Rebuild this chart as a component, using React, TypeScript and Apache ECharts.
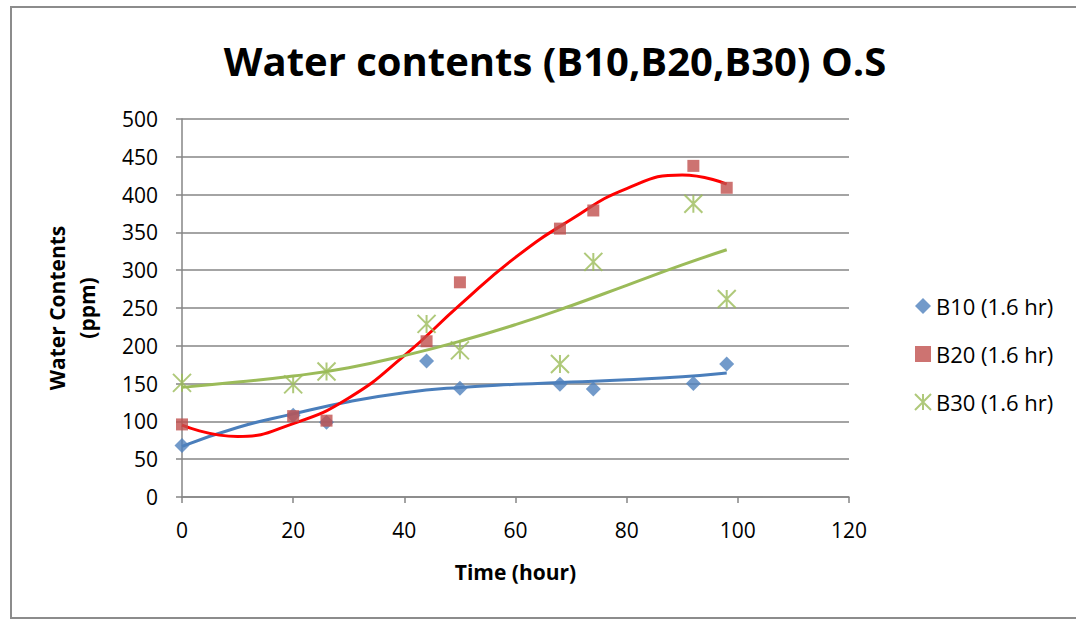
import React, { useEffect, useRef } from "react";
import * as echarts from "echarts";

const hours = [0, 20, 26, 44, 50, 68, 74, 92, 98];
const b10 = [68, 108, 99, 180, 144, 149, 143, 150, 176];
const b20 = [96, 107, 101, 206, 284, 355, 379, 438, 409];
const b30 = [151, 149, 166, 229, 194, 176, 311, 388, 262];

// trend lines
const trendX = [0, 10, 20, 30, 40, 50, 60, 70, 80, 90, 98];
const b10TrendY = [67, 92, 110, 126, 138, 145, 149, 152, 155, 159, 164];
const b20TrendY = [95, 80, 97, 131, 187, 254, 317, 367, 408, 426, 414];
const b30TrendY = [145, 152, 160, 171, 187, 206, 228, 253, 280, 307, 327];

const seriesNames = ["B10 (1.6 hr)", "B20 (1.6 hr)", "B30 (1.6 hr)"];
const xTicks = [0, 120, 20];
const yTicks = [0, 500, 50];

const pair = (xs: number[], ys: number[]) => xs.map((x, i) => [x, ys[i]]);

const STAR = "path://M0,0L10,10M10,0L0,10M5,0L5,10";
const FONT = "'Open Sans', 'Noto Sans', sans-serif";

export default function App() {
  const ref = useRef<HTMLDivElement>(null);
  useEffect(() => {
    if (!ref.current) return;
    const chart = echarts.init(ref.current, undefined, { renderer: "svg" });
    const trend = (data: number[], color: string) => ({
      type: "line",
      data: pair(trendX, data),
      smooth: 0.5,
      showSymbol: false,
      silent: true,
      lineStyle: { color, width: 3 },
      z: 2,
    });
    chart.setOption({
      animation: false,
      backgroundColor: "#ffffff",
      title: {
        text: "Water contents (B10,B20,B30) O.S",
        left: 550,
        textAlign: "center",
        top: 35,
        textStyle: { fontFamily: FONT, fontWeight: "bold", fontSize: 40, color: "#000" },
      },
      graphic: [
        {
          type: "rect",
          shape: { x: 11, y: 7, width: 1100, height: 611 },
          style: { fill: "none", stroke: "#8c8c8c", lineWidth: 2 },
          silent: true,
          z: -1,
        },
      ],
      grid: { left: 182, right: 227, top: 119, bottom: 122, containLabel: false },
      legend: {
        orient: "vertical",
        left: 909,
        top: 290,
        itemGap: 26,
        itemWidth: 16,
        itemHeight: 16,
        itemTextGap: 5,
        data: seriesNames,
        textStyle: { fontFamily: FONT, fontSize: 22, color: "#000" },
      },
      xAxis: {
        type: "value",
        min: xTicks[0],
        max: xTicks[1],
        interval: xTicks[2],
        name: "Time (hour)",
        nameLocation: "middle",
        nameGap: 64,
        nameTextStyle: { fontFamily: FONT, fontWeight: "bold", fontSize: 21, color: "#000" },
        axisLine: { lineStyle: { color: "#868686", width: 1.5 } },
        axisTick: { show: true, length: 6, lineStyle: { color: "#868686", width: 1.5 } },
        axisLabel: { fontFamily: FONT, fontSize: 21, color: "#000", margin: 22 },
        splitLine: { show: false },
      },
      yAxis: {
        type: "value",
        min: yTicks[0],
        max: yTicks[1],
        interval: yTicks[2],
        name: "Water Contents\n(ppm)",
        nameLocation: "middle",
        nameGap: 80,
        nameRotate: 90,
        nameTextStyle: { fontFamily: FONT, fontWeight: "bold", fontSize: 21, color: "#000", lineHeight: 30 },
        axisLine: { show: true, lineStyle: { color: "#868686", width: 1.5 } },
        axisTick: { show: true, length: 6, lineStyle: { color: "#868686", width: 1.5 } },
        axisLabel: { fontFamily: FONT, fontSize: 21, color: "#000", margin: 24 },
        splitLine: { show: true, lineStyle: { color: "#868686", width: 1.5 } },
      },
      series: [
        { name: "b10trend", ...trend(b10TrendY, "#4a7ebb") },
        { name: "b20trend", ...trend(b20TrendY, "#ff0000") },
        { name: "b30trend", ...trend(b30TrendY, "#9bbb59") },
        {
          name: seriesNames[0],
          type: "scatter",
          data: pair(hours, b10),
          symbol: "diamond",
          symbolSize: 15,
          itemStyle: { color: "#4f81bd" },
          z: 3,
        },
        {
          name: seriesNames[1],
          type: "scatter",
          data: pair(hours, b20),
          symbol: "rect",
          symbolSize: 12,
          itemStyle: { color: "#c0504d" },
          z: 3,
        },
        {
          name: seriesNames[2],
          type: "scatter",
          data: pair(hours, b30),
          symbol: STAR,
          symbolSize: 18,
          itemStyle: { color: "rgba(0,0,0,0)", borderColor: "#9bbb59", borderWidth: 2 },
          z: 3,
        },
      ],
    });
    return () => chart.dispose();
  }, []);
  return (
    <div
      ref={ref}
      style={{ position: "absolute", left: 0, top: 0, width: 1076, height: 619 }}
    />
  );
}
